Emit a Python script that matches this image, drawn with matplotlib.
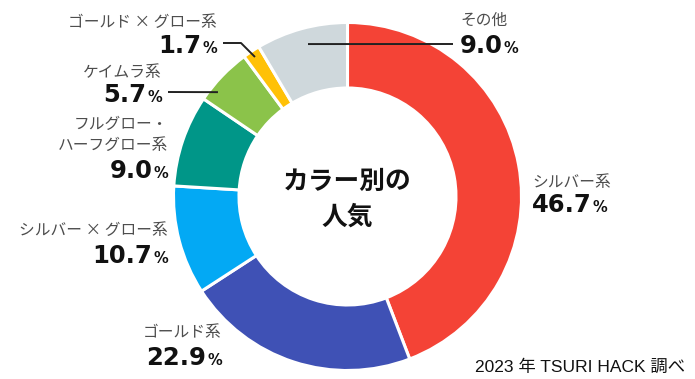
import numpy as np
import matplotlib
matplotlib.use("Agg")
import matplotlib.pyplot as plt

plt.rcParams['font.family'] = ['Noto Sans CJK JP', 'DejaVu Sans']

# data
categories = ["シルバー系", "ゴールド系", "シルバー × グロー系", "フルグロー・\nハーフグロー系",
              "ケイムラ系", "ゴールド × グロー系", "その他"]
shares = [46.7, 22.9, 10.7, 9.0, 5.7, 1.7, 9.0]
colors = ["#f44336", "#3f51b5", "#03a9f4", "#009688", "#8bc34a", "#ffc107", "#cfd8dc"]
center_title = "カラー別の\n人気"
source_note = "2023 年 TSURI HACK 調べ"

# canvas in pixels, y measured from the top in the layout below
W, H = 695, 379
CX, CY, R = 347.5, 196.5, 174
RING = 65.5

# label layout: side, anchor x, name centre y, value baseline y
label_pos = [
    ("left", 532, 182, 212),
    ("right", 222, 332, 365),
    ("right", 168, 230, 263),
    ("right", 168, 135, 178),
    ("right", 162, 72, 102),
    ("right", 217, 22, 53),
    ("left", 460, 20, 53),
]
# leader lines: wedge index -> (points from label side, angle offset, radius fraction)
leaders = {
    6: ([(453, 44)], -0.8, 0.905),
    5: ([(223, 43), (241, 43)], 0.0, 0.962),
    4: ([(168, 92)], 5.0, 0.956),
}


def main():
    fig = plt.figure(figsize=(W / 100, H / 100), dpi=100)
    ax = fig.add_axes([0, 0, 1, 1])

    wedges, _ = ax.pie(shares, colors=colors, startangle=90, counterclock=False,
                       center=(CX, H - CY), radius=R,
                       wedgeprops=dict(width=RING, edgecolor="white", linewidth=2.2))
    ax.set_xlim(0, W)
    ax.set_ylim(0, H)
    ax.set_aspect("equal")
    ax.axis("off")

    # leader lines
    for i, (pts, dtheta, rfrac) in leaders.items():
        w = wedges[i]
        ang = np.deg2rad((w.theta1 + w.theta2) / 2 + dtheta)
        end = (CX + R * rfrac * np.cos(ang), H - CY + R * rfrac * np.sin(ang))
        xs = [p[0] for p in pts] + [end[0]]
        ys = [H - p[1] for p in pts] + [end[1]]
        ax.plot(xs, ys, color="#222222", lw=1.4, solid_capstyle="butt", zorder=5)

    renderer = fig.canvas.get_renderer()
    num_font = dict(family=["DejaVu Sans"], fontweight="heavy", fontsize=17.5, color="#111111")
    pct_font = dict(family=["DejaVu Sans"], fontweight="bold", fontsize=10.5, color="#111111")

    for name, val, (side, x, ny, vy) in zip(categories, shares, label_pos):
        ha = "left" if side == "left" else "right"
        ax.text(x, H - ny, name, ha=ha, va="center", fontsize=11.3, color="#4d4d4d",
                linespacing=1.25, multialignment=ha)
        num = f"{val:.1f}"
        if side == "left":
            t = ax.text(x, H - vy, num, ha="left", va="baseline", **num_font)
            wnum = t.get_window_extent(renderer).width
            ax.text(x + wnum + 1, H - vy, "%", ha="left", va="baseline", **pct_font)
        else:
            t = ax.text(x, H - vy, "%", ha="right", va="baseline", **pct_font)
            wpct = t.get_window_extent(renderer).width
            ax.text(x - wpct - 1, H - vy, num, ha="right", va="baseline", **num_font)

    ax.text(CX, H - 199, center_title, ha="center", va="center", fontsize=18.5,
            fontweight="bold", color="#111111", linespacing=1.4)
    ax.text(685, H - 367, source_note, ha="right", va="center", fontsize=12.5,
            family=["Liberation Sans", "Noto Sans CJK JP"], color="#111111")

    fig.savefig("out.png", dpi=100)


if __name__ == "__main__":
    main()
